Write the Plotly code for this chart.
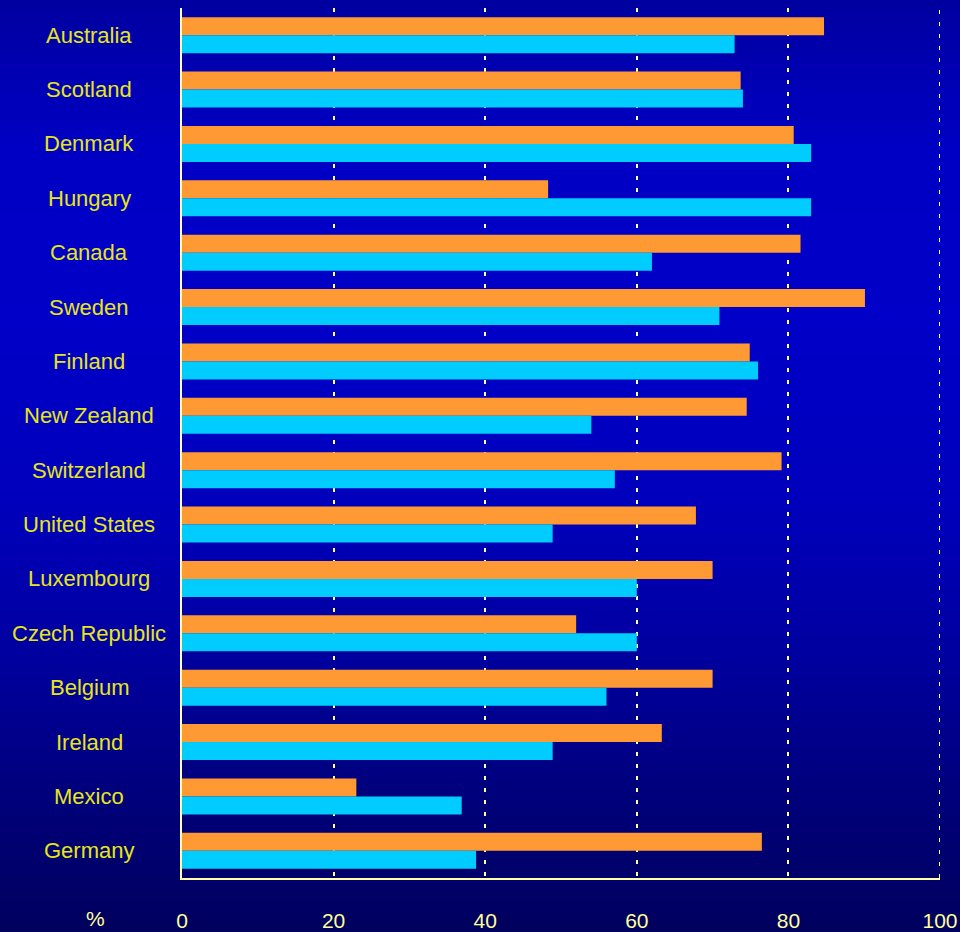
import plotly.graph_objects as go

countries = ["Australia", "Scotland", "Denmark", "Hungary", "Canada", "Sweden",
             "Finland", "New Zealand", "Switzerland", "United States", "Luxembourg",
             "Czech Republic", "Belgium", "Ireland", "Mexico", "Germany"]
orange_vals = [84.7, 73.7, 80.7, 48.3, 81.6, 90.1, 74.9, 74.5, 79.1, 67.8, 70.0,
               52.0, 70.0, 63.3, 23.0, 76.5]
cyan_vals = [72.9, 74.0, 83.0, 83.0, 62.0, 70.9, 76.0, 54.0, 57.1, 48.9, 60.0,
             60.0, 56.0, 48.9, 36.9, 38.8]
x_ticks = [0, 20, 40, 60, 80, 100]

W, H = 960, 932
ML, MR, MT, MB = 182, 20, 8, 54
plot_h = H - MT - MB
GRID_COLOR = "#ffff99"

def px_to_paper_y(py):
    return (H - MB - py) / plot_h

def px_to_paper_x(px):
    return (px - ML) / (W - ML - MR)

# background gradient (vertical)
stops = [(0, 160), (150, 196), (320, 200), (500, 188), (650, 160), (800, 122), (932, 94)]

def blue_at(py):
    for (y0, b0), (y1, b1) in zip(stops[:-1], stops[1:]):
        if y0 <= py <= y1:
            t = (py - y0) / (y1 - y0)
            return b0 + (b1 - b0) * t
    return stops[-1][1]

shapes = []
step = 4
for py in range(0, H, step):
    b = int(round(blue_at(py + step / 2)))
    shapes.append(dict(type="rect", xref="paper", yref="paper",
                       x0=px_to_paper_x(-2), x1=px_to_paper_x(W + 2),
                       y0=px_to_paper_y(py + step + 0.5), y1=px_to_paper_y(py - 0.5),
                       fillcolor=f"rgb(0,0,{b})", line=dict(width=0), layer="below"))

# end gridline (Plotly clips the gridline at the range end)
shapes.append(dict(type="line", xref="x", yref="paper", x0=x_ticks[-1], x1=x_ticks[-1],
                   y0=0, y1=1, line=dict(color=GRID_COLOR, width=2, dash="4px,8px"),
                   layer="below"))

fig = go.Figure()
fig.add_trace(go.Bar(y=countries, x=orange_vals, orientation="h",
                     marker=dict(color="#ff9933", line=dict(width=0)), name="A"))
fig.add_trace(go.Bar(y=countries, x=cyan_vals, orientation="h",
                     marker=dict(color="#00ccff", line=dict(width=0)), name="B"))

annotations = []
for c in countries:
    annotations.append(dict(x=px_to_paper_x(89), xref="paper", y=c, yref="y",
                            text=c, showarrow=False, xanchor="center", yanchor="middle",
                            font=dict(family="Liberation Sans, Arial, sans-serif",
                                      size=22, color="#e6e619")))
annotations.append(dict(x=px_to_paper_x(95), xref="paper", y=px_to_paper_y(918), yref="paper",
                        text="%", showarrow=False, xanchor="center", yanchor="middle",
                        font=dict(family="Liberation Sans, Arial, sans-serif",
                                  size=21, color="#ffff99")))

fig.update_layout(
    width=W, height=H, autosize=False,
    margin=dict(l=ML, r=MR, t=MT, b=MB, pad=0, autoexpand=False),
    paper_bgcolor="#000066",
    plot_bgcolor="rgba(0,0,0,0)",
    barmode="group", bargap=0.34, bargroupgap=0,
    showlegend=False,
    shapes=shapes,
    annotations=annotations,
    xaxis=dict(range=[0, 100], tickvals=x_ticks, ticktext=[str(v) for v in x_ticks],
               showgrid=True, gridcolor=GRID_COLOR, gridwidth=2, griddash="4px,8px",
               zeroline=False, showline=True, linecolor="#ffffaa", linewidth=2,
               ticks="", ticklabelstandoff=23, automargin=False,
               tickfont=dict(family="Liberation Sans, Arial, sans-serif", size=21,
                             color="#ffff99")),
    yaxis=dict(categoryorder="array", categoryarray=countries, autorange="reversed",
               showticklabels=False, showgrid=False, zeroline=False, automargin=False,
               showline=True, linecolor="#ffffaa", linewidth=2, ticks=""),
)

post = ("document.body.style.margin='0';document.body.style.padding='0';"
        "document.body.style.overflow='hidden';"
        "document.body.style.background='#000066';")
fig.write_html("out.html", post_script=post, config={"displayModeBar": False})
